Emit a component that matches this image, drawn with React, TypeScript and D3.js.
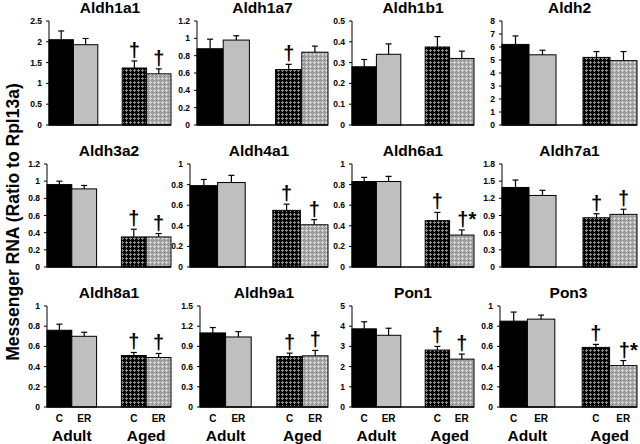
import * as d3 from 'd3'

// 유전자별 평균 / SE (C-Adult, ER-Adult, C-Aged, ER-Aged)
const genes = ['Aldh1a1', 'Aldh1a7', 'Aldh1b1', 'Aldh2', 'Aldh3a2', 'Aldh4a1',
  'Aldh6a1', 'Aldh7a1', 'Aldh8a1', 'Aldh9a1', 'Pon1', 'Pon3']
const means = [
  [2.05, 1.93, 1.37, 1.23],
  [0.88, 0.98, 0.64, 0.84],
  [0.28, 0.34, 0.375, 0.32],
  [6.2, 5.4, 5.2, 4.95],
  [0.96, 0.91, 0.35, 0.35],
  [0.79, 0.82, 0.55, 0.41],
  [0.83, 0.83, 0.45, 0.31],
  [1.39, 1.25, 0.86, 0.92],
  [0.76, 0.70, 0.51, 0.49],
  [1.10, 1.04, 0.75, 0.76],
  [3.87, 3.55, 2.82, 2.37],
  [0.85, 0.87, 0.59, 0.41],
]
const errors = [
  [0.21, 0.15, 0.17, 0.12],
  [0.11, 0.05, 0.06, 0.07],
  [0.035, 0.05, 0.05, 0.035],
  [0.65, 0.35, 0.45, 0.7],
  [0.04, 0.04, 0.09, 0.04],
  [0.06, 0.07, 0.06, 0.05],
  [0.04, 0.05, 0.08, 0.05],
  [0.13, 0.09, 0.07, 0.09],
  [0.06, 0.04, 0.03, 0.04],
  [0.08, 0.08, 0.05, 0.08],
  [0.35, 0.35, 0.18, 0.25],
  [0.09, 0.04, 0.03, 0.05],
]
const marks = [
  ['', '', '†', '†'],
  ['', '', '†', ''],
  ['', '', '', ''],
  ['', '', '', ''],
  ['', '', '†', '†'],
  ['', '', '†', '†'],
  ['', '', '†', '†*'],
  ['', '', '†', '†'],
  ['', '', '†', '†'],
  ['', '', '†', '†'],
  ['', '', '†', '†'],
  ['', '', '†', '†*'],
]
const yMax = [2.5, 1.2, 0.5, 8, 1.2, 1, 1, 1.8, 1, 1.5, 5, 1]
const yStep = [0.5, 0.2, 0.1, 1, 0.2, 0.2, 0.2, 0.3, 0.2, 0.3, 1, 0.2]
const groups = ['C-Adult', 'ER-Adult', 'gap', 'C-Aged', 'ER-Aged']
const barKeys = ['C-Adult', 'ER-Adult', 'C-Aged', 'ER-Aged']
const xLabels = ['C', 'ER', 'C', 'ER']
const ageLabels = ['Adult', 'Aged']

// 레이아웃
const W = 640, H = 444
const axisX = [49, 197, 352, 502, 47, 190, 352, 502, 47, 200, 352, 500]
const plotRight = [171, 328, 474, 637]
const rowTop = [21, 164, 306]
const rowZero = [125, 267, 407]
const FONT = 'Arial, "Liberation Sans", sans-serif'
const fills = ['#000000', '#bfbfbf', 'url(#darkCheck)', 'url(#lightCheck)']

function Panel({ i }: { i: number }) {
  const row = Math.floor(i / 4), col = i % 4
  const x0 = axisX[i], x1 = plotRight[col]
  const y = d3.scaleLinear().domain([0, yMax[i]]).range([rowZero[row], rowTop[row]])
  const x = d3.scaleBand().domain(groups).range([x0, x1]).paddingInner(0)
  const ticks = d3.range(0, yMax[i] + yStep[i] / 2, yStep[i])
  const fmt = (v: number) => String(+v.toFixed(2))
  const bottom = row === 2

  return (
    <g>
      <text x={(x0 + x1) / 2} y={rowTop[row] - 8} textAnchor="middle"
        fontFamily={FONT} fontWeight="bold" fontSize={15.5}>{genes[i]}</text>
      {barKeys.map((k, j) => {
        const bx = x(k)!, bw = x.bandwidth()
        const top = y(means[i][j]), et = y(means[i][j] + errors[i][j])
        const cx = bx + bw / 2
        return (
          <g key={k}>
            <rect x={bx} y={top} width={bw} height={y(0) - top}
              fill={fills[j]} stroke="#000" strokeWidth={1} />
            <line x1={cx} x2={cx} y1={top} y2={et} stroke="#000" strokeWidth={1.2} />
            <line x1={cx - 3} x2={cx + 3} y1={et} y2={et} stroke="#000" strokeWidth={1.2} />
            {marks[i][j] && (
              <text x={cx + (marks[i][j].length > 1 ? 5 : 0)} y={et - 4} textAnchor="middle"
                fontFamily={FONT} fontWeight="bold" fontSize={20}>{marks[i][j]}</text>
            )}
            {bottom && (
              <text x={cx} y={422} textAnchor="middle" fontFamily={FONT}
                fontWeight="bold" fontSize={10}>{xLabels[j]}</text>
            )}
          </g>
        )
      })}
      {bottom && ageLabels.map((a, k) => (
        <text key={a} x={x(barKeys[k * 2 + 1])!} y={441} textAnchor="middle"
          fontFamily={FONT} fontWeight="bold" fontSize={15.5}>{a}</text>
      ))}
      <line x1={x0} x2={x0} y1={rowTop[row]} y2={y(0)} stroke="#000" strokeWidth={1} />
      <line x1={x0} x2={x1} y1={y(0)} y2={y(0)} stroke="#000" strokeWidth={1.5} />
      {ticks.map(t => (
        <g key={t}>
          <line x1={x0 - 3} x2={x0} y1={y(t)} y2={y(t)} stroke="#000" />
          <text x={x0 - 7} y={y(t) + 3} textAnchor="end" fontFamily={FONT}
            fontWeight="bold" fontSize={8.5}>{fmt(t)}</text>
        </g>
      ))}
    </g>
  )
}

export default function App() {
  return (
    <svg width={W} height={H} style={{ position: 'absolute', left: 0, top: 0, background: '#fff' }}>
      <defs>
        <pattern id="darkCheck" width={4} height={4} patternUnits="userSpaceOnUse">
          <rect width={4} height={4} fill="#050505" />
          <rect x={1} y={2} width={3} height={1} fill="#8c8c8c" />
          <rect x={2} y={1} width={1} height={3} fill="#8c8c8c" />
        </pattern>
        <pattern id="lightCheck" width={4} height={4} patternUnits="userSpaceOnUse">
          <rect width={4} height={4} fill="#9e9e9e" />
          <rect x={1} y={2} width={3} height={1} fill="#d6d6d6" />
          <rect x={2} y={1} width={1} height={3} fill="#d6d6d6" />
        </pattern>
      </defs>
      <rect width={W} height={H} fill="#fff" />
      <text transform="translate(19,222) rotate(-90)" textAnchor="middle"
        fontFamily={FONT} fontWeight="bold" fontSize={17.5}>
        Messenger RNA (Ratio to Rpl13a)
      </text>
      {genes.map((g, i) => <Panel key={g} i={i} />)}
    </svg>
  )
}
